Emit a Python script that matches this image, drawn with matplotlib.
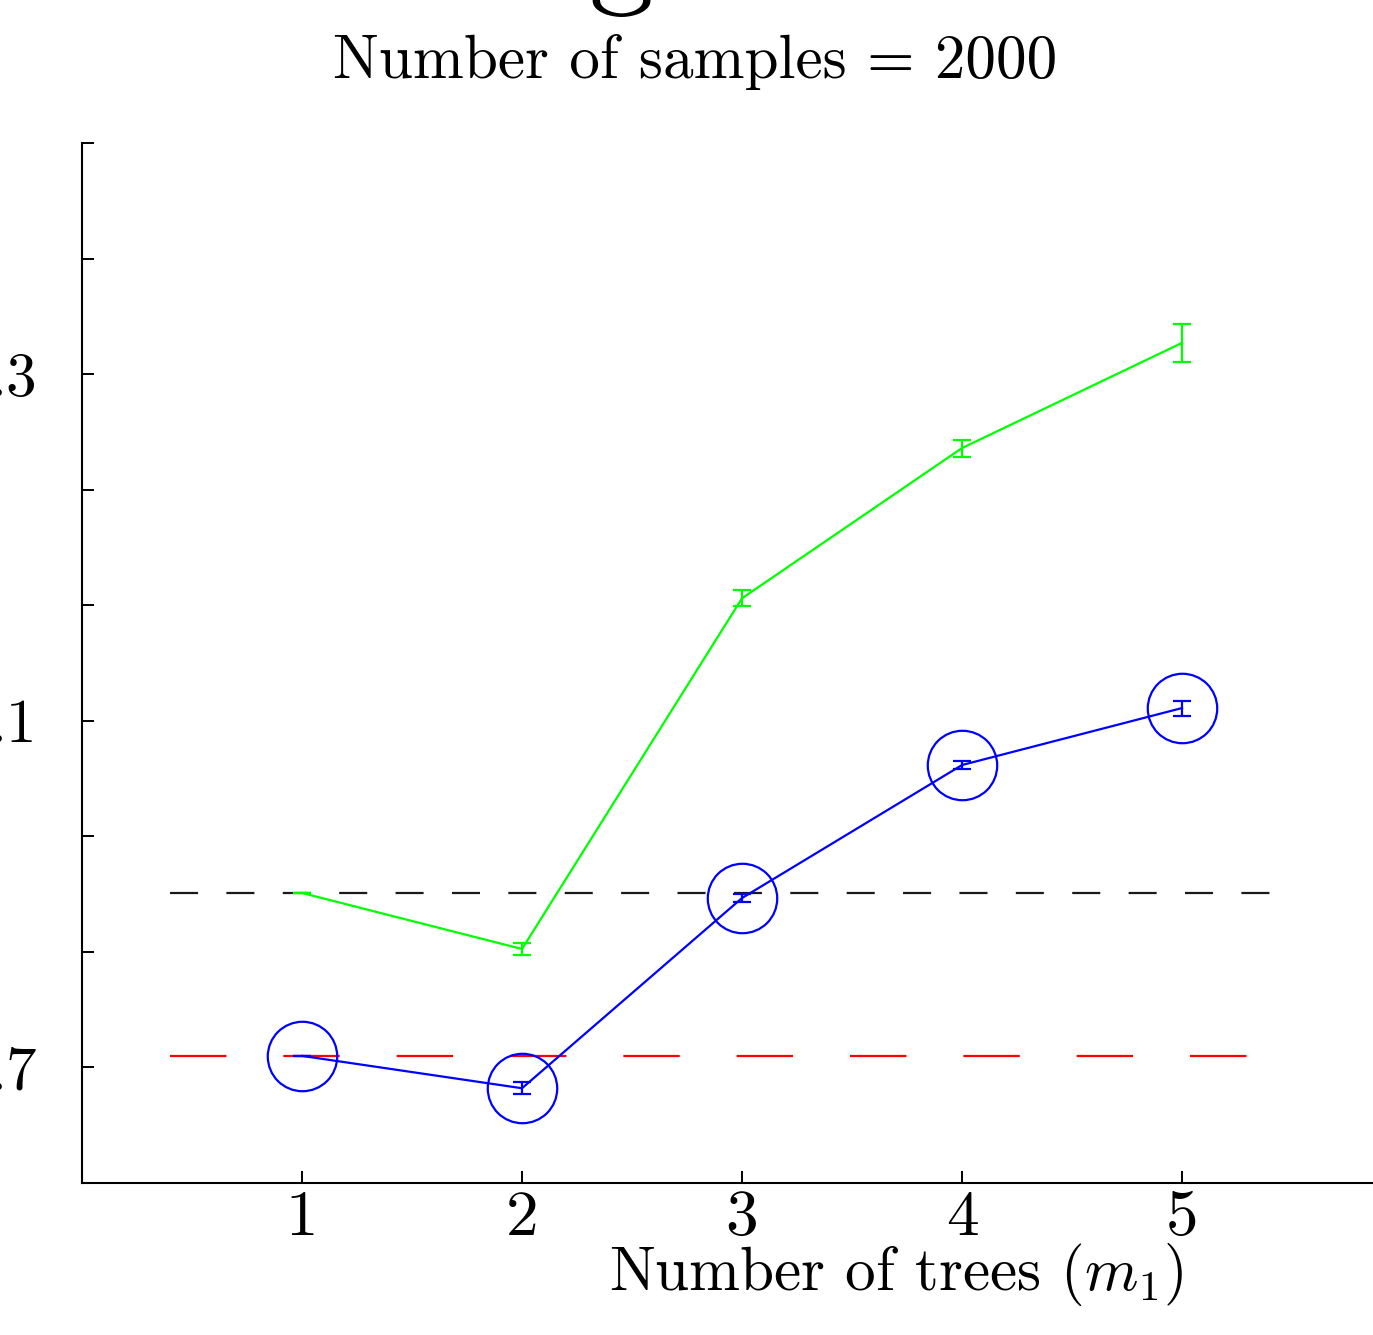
import numpy as np
import matplotlib
matplotlib.use("Agg")
import matplotlib.pyplot as plt

plt.rcParams['font.family'] = 'serif'
plt.rcParams['font.serif'] = ['cmr10', 'DejaVu Serif']
plt.rcParams['mathtext.fontset'] = 'cm'
plt.rcParams['axes.unicode_minus'] = False
plt.rcParams['lines.scale_dashes'] = False

# Data
trees = [1, 2, 3, 4, 5]
green_vals = [0.851, 0.8025, 1.106, 1.236, 1.327]
green_err = [0.0, 0.005, 0.007, 0.0074, 0.0164]
blue_vals = [0.710, 0.682, 0.8466, 0.9617, 1.011]
blue_err = [0.0, 0.005, 0.0035, 0.0035, 0.0065]
black_ref = 0.851
red_ref = 0.710
ref_span = [0.4, 5.4]
ytick_vals = [0.6, 0.7, 0.8, 0.9, 1.0, 1.1, 1.2, 1.3, 1.4, 1.5]
ytick_labels = ["", ".7", "", "", ".1", "", "", ".3", "", ""]
xtick_labels = ["1", "2", "3", "4", "5"]

fig = plt.figure(figsize=(13.73, 13.35), dpi=100)
ax = fig.add_axes([82/1373, (1335-1183)/1335, 1320/1373, 1040/1335])

ax.plot(ref_span, [black_ref, black_ref], color='#1a1a1a', lw=1.6, dashes=(20.2, 20.4))
ax.plot(ref_span, [red_ref, red_ref], color='#ff0000', lw=1.6, dashes=(40.6, 41.0))

ax.errorbar(trees, green_vals, yerr=green_err, color='#00ff00', lw=1.6,
            elinewidth=1.6, capsize=6.5, capthick=1.6)
ax.errorbar(trees, blue_vals, yerr=blue_err, color='#0000ff', lw=1.6,
            elinewidth=1.6, capsize=6.5, capthick=1.6,
            marker='o', markersize=50, markerfacecolor='none',
            markeredgecolor='#0000ff', markeredgewidth=1.6)

ax.set_xlim(0, 6)
ax.set_ylim(0.6, 1.5)
ax.set_xticks(trees)
ax.set_xticklabels(xtick_labels)
ax.set_yticks(ytick_vals)
ax.set_yticklabels(ytick_labels)

for s in ['top', 'right']:
    ax.spines[s].set_visible(False)
for s in ['left', 'bottom']:
    ax.spines[s].set_linewidth(1.5)
ax.tick_params(axis='both', direction='in', length=8.6, width=1.4)
ax.tick_params(axis='y', pad=32, labelsize=44)
ax.tick_params(axis='x', pad=5, labelsize=47)

fig.text(896/1373, (1335-1290)/1335, r'Number of trees ($m_1$)', fontsize=44,
         ha='center', va='baseline')
fig.text(695/1373, 1 - 78/1335, 'Number of samples = 2000', fontsize=44,
         ha='center', va='baseline')
fig.text(621/1373, 1 + 10/1335, 'g', fontsize=94, ha='center', va='baseline')

fig.savefig('out.png', dpi=100)
